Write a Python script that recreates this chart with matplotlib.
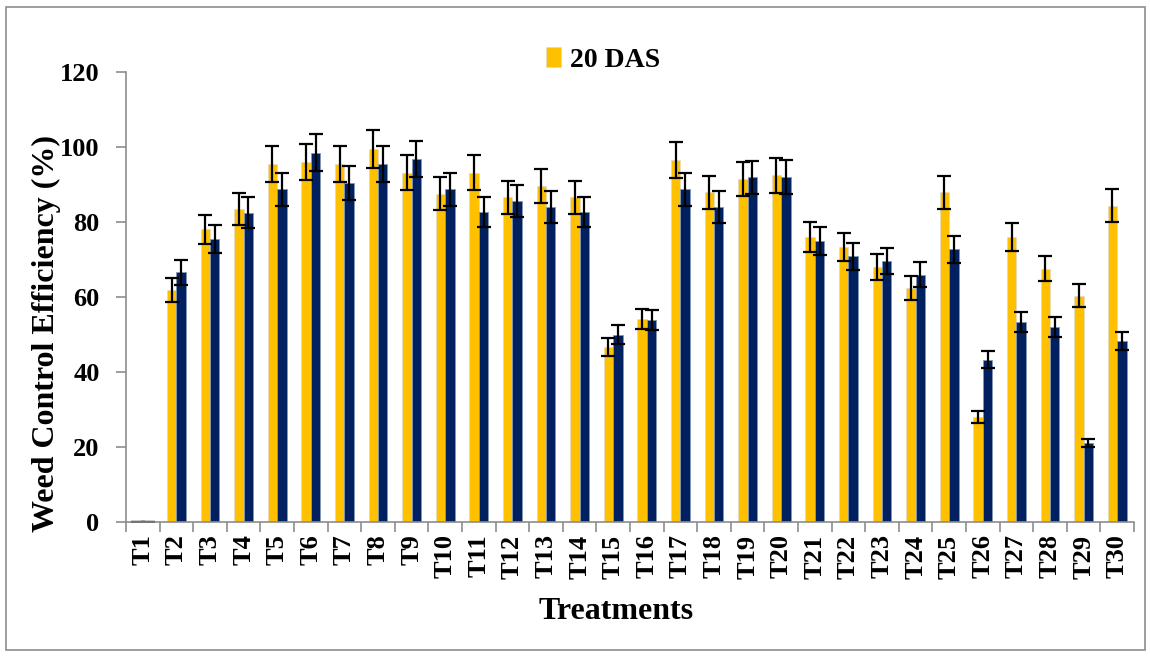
import matplotlib
matplotlib.use('Agg')
import matplotlib.pyplot as plt
import numpy as np
from matplotlib.patches import Rectangle

# treatments on the x axis
treatments = ['T' + str(i) for i in range(1, 31)]

# weed control efficiency (%) at 20 DAS (yellow) and second stage (navy)
wce_20 = [0, 62.0, 78.1, 83.5, 95.4, 96.0, 95.6, 99.5, 93.2, 87.5,
          93.2, 86.6, 89.6, 86.6, 46.7, 54.1, 96.6, 88.0, 91.4, 92.5,
          76.0, 73.4, 68.0, 62.4, 88.0, 28.0, 76.0, 67.6, 60.4, 84.4]
err_20 = [0, 3.2, 3.9, 4.2, 4.8, 4.75, 4.8, 5.0, 4.7, 4.4,
          4.7, 4.35, 4.5, 4.35, 2.35, 2.75, 4.85, 4.4, 4.6, 4.7,
          3.9, 3.7, 3.4, 3.2, 4.4, 1.5, 3.8, 3.3, 3.1, 4.3]
wce_2 = [0, 66.6, 75.5, 82.5, 88.7, 98.5, 90.4, 95.4, 96.9, 88.7,
         82.7, 85.6, 84.0, 82.7, 50.0, 53.8, 88.7, 84.1, 91.9, 92.0,
         74.9, 70.9, 69.6, 66.0, 72.7, 43.3, 53.3, 52.0, 21.1, 48.4]
err_2 = [0, 3.4, 3.8, 4.1, 4.5, 4.9, 4.6, 4.8, 4.8, 4.5,
         4.1, 4.3, 4.3, 4.1, 2.5, 2.7, 4.5, 4.3, 4.5, 4.6,
         3.8, 3.6, 3.5, 3.3, 3.6, 2.2, 2.7, 2.7, 1.1, 2.4]

yellow = '#FFC000'
navy = '#002060'
grey = '#8c8c8c'
font = 'Liberation Serif'

fig = plt.figure(figsize=(11.5, 6.57), dpi=100)
ax = fig.add_axes([126/1150, (657-522)/657, (1134-126)/1150, (522-72)/657])

x = np.arange(len(treatments))
w = 0.28
ekw = dict(ecolor='black', capsize=5, elinewidth=1.6, capthick=1.6)
b1 = ax.bar(x - w/2, wce_20, w, yerr=err_20, color=yellow, edgecolor='#d9d9d9', linewidth=0.4, error_kw=ekw, label='20 DAS')
ax.bar(x + w/2, wce_2, w, yerr=err_2, color=navy, edgecolor='#8497b0', linewidth=0.6, error_kw=ekw)

ax.set_xlim(-0.5, len(treatments) - 0.5)
ax.set_ylim(0, 120)
ax.set_yticks(range(0, 121, 20))
ax.set_xticks(np.arange(-0.5, len(treatments), 1), minor=False)
ax.set_xticklabels([])
ax.set_xticks(x, minor=True)
ax.set_xticklabels(treatments, minor=True, rotation=90, fontfamily=font, fontweight='bold', fontsize=19)
ax.tick_params(axis='x', which='minor', length=0, pad=9)
ax.tick_params(axis='x', which='major', length=7, width=1.2, color=grey)
ax.tick_params(axis='y', length=7, width=1.2, color=grey, pad=12)
for lab in ax.get_yticklabels():
    lab.set_fontfamily(font)
    lab.set_fontweight('bold')
    lab.set_fontsize(19)

for s in ['top', 'right']:
    ax.spines[s].set_visible(False)
for s in ['left', 'bottom']:
    ax.spines[s].set_color(grey)
    ax.spines[s].set_linewidth(1.2)

ax.set_ylabel('Weed Control Efficiency (%)', fontfamily=font, fontweight='bold', fontsize=23)
ax.yaxis.set_label_coords(-0.064, 0.42)
ax.set_xlabel('Treatments', fontfamily=font, fontweight='bold', fontsize=23)
ax.xaxis.set_label_coords(0.486, -0.167)

ax.legend(handles=[b1], labels=['20 DAS'], loc='center', bbox_to_anchor=(603/1150, (657-60)/657),
          bbox_transform=fig.transFigure, frameon=False, handlelength=0.55, handleheight=0.7,
          handletextpad=0.3, prop=dict(family=font, weight='bold', size=20))

fig.patches.append(Rectangle((6/1150, 7/657), 1139/1150, 643/657, transform=fig.transFigure,
                             fill=False, edgecolor='#8c8c8c', linewidth=1.2))

fig.savefig('out.png', dpi=100)
